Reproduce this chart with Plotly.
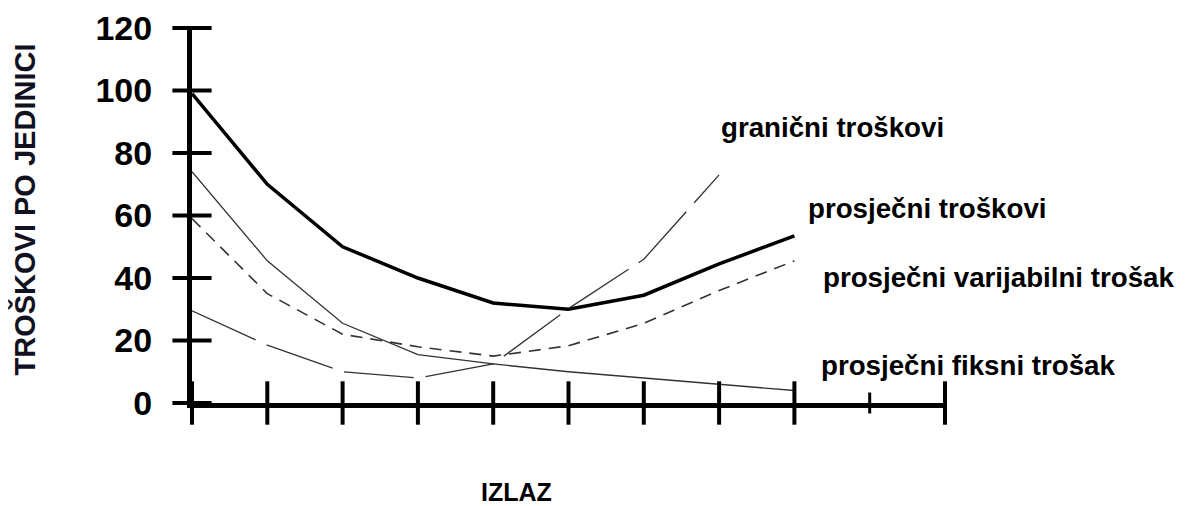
import plotly.graph_objects as go

# ---- data ----
output_x = [0, 1, 2, 3, 4, 5, 6, 7, 8]
avg_total = [99, 70, 50, 40, 32, 30, 34.5, 44.5, 53.5]
avg_variable = [59, 35, 22, 18, 15, 18.3, 25.5, 36, 45.5]
avg_fixed = [74, 45.5, 25.5, 15.5, 12.5, 10, 8, 6, 4]
marginal_x = [0, 1, 2, 3, 4, 5, 6, 7]
marginal = [29.5, 18.5, 10, 8, 12.5, 30.2, 46, 73]

x_ticks = [0, 1, 2, 3, 4, 5, 6, 7, 8, 10]
x_short_tick = [9]
y_ticks = [0, 20, 40, 60, 80, 100, 120]

labels = ["granični troškovi", "prosječni troškovi",
          "prosječni varijabilni trošak", "prosječni fiksni trošak"]
label_x = [7.0, 8.15, 8.35, 8.32]
label_y = [88.1, 62.2, 40.2, 11.9]

y_title = "TROŠKOVI PO JEDINICI"
x_title = "IZLAZ"

FONT = "Arial, Liberation Sans, sans-serif"

fig = go.Figure()
fig.add_trace(go.Scatter(x=output_x, y=avg_fixed, mode="lines",
                         line=dict(color="#333333", width=1.3), hoverinfo="skip"))
fig.add_trace(go.Scatter(x=marginal_x, y=marginal, mode="lines",
                         line=dict(color="#333333", width=1.3, dash="70px,12px"), hoverinfo="skip"))
fig.add_trace(go.Scatter(x=output_x, y=avg_variable, mode="lines",
                         line=dict(color="#333333", width=1.6, dash="12px,8px"), hoverinfo="skip"))
fig.add_trace(go.Scatter(x=output_x, y=avg_total, mode="lines",
                         line=dict(color="black", width=3.5), hoverinfo="skip"))

# crossing tick marks (centred on the axis lines), built from the tick arrays
fig.add_trace(go.Scatter(x=x_ticks, y=[0] * len(x_ticks), mode="markers", cliponaxis=False,
                         marker=dict(symbol="line-ns", size=31,
                                     line=dict(color="black", width=4)),
                         hoverinfo="skip"))
fig.add_trace(go.Scatter(x=x_short_tick, y=[0] * len(x_short_tick), mode="markers",
                         cliponaxis=False,
                         marker=dict(symbol="line-ns", size=15,
                                     line=dict(color="black", width=3)),
                         hoverinfo="skip"))
fig.add_trace(go.Scatter(x=[0] * len(y_ticks), y=y_ticks, mode="markers", cliponaxis=False,
                         marker=dict(symbol="line-ew", size=28,
                                     line=dict(color="black", width=4)),
                         hoverinfo="skip"))

annotations = []
for t, lx, ly in zip(labels, label_x, label_y):
    annotations.append(dict(x=lx, y=ly, xref="x", yref="y", text=t, showarrow=False,
                            xanchor="left", yanchor="middle",
                            font=dict(family=FONT, size=27.7, color="black", weight="bold")))
annotations.append(dict(x=-0.2218, y=0.516, xref="paper", yref="paper", text=y_title,
                        showarrow=False, textangle=-90, xanchor="center", yanchor="middle",
                        font=dict(family=FONT, size=29, color="#111122", weight="bold")))
annotations.append(dict(x=0.4316, y=-0.2366, xref="paper", yref="paper", text=x_title,
                        showarrow=False, xanchor="center", yanchor="middle",
                        font=dict(family=FONT, size=25, color="black", weight="bold")))

fig.update_layout(
    width=1187, height=506,
    margin=dict(l=184, r=250, t=20, b=111),
    paper_bgcolor="white", plot_bgcolor="white",
    showlegend=False,
    xaxis=dict(range=[0, 10], showgrid=False, zeroline=False, showticklabels=False,
               ticks="", automargin=False,
               showline=True, linewidth=5, linecolor="black"),
    yaxis=dict(range=[0, 120], showgrid=False, zeroline=False, automargin=False,
               tickmode="array", tickvals=y_ticks, ticks="",
               showline=True, linewidth=5, linecolor="black",
               ticklabelstandoff=28,
               tickfont=dict(family=FONT, size=34, color="black", weight="bold")),
    annotations=annotations,
)

fig.write_html("out.html")
